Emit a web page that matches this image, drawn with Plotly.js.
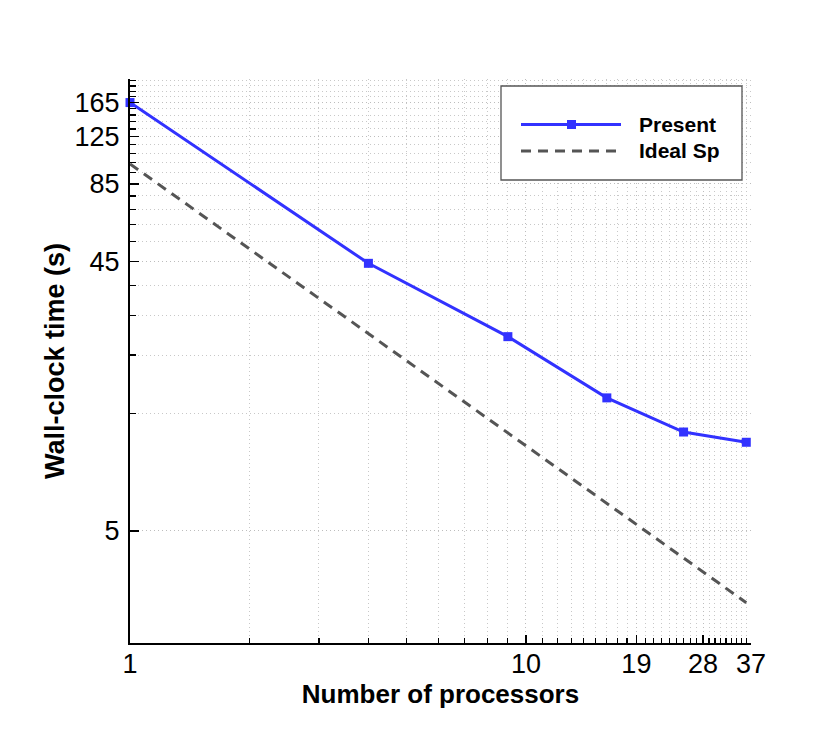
<!DOCTYPE html>
<html>
<head>
<meta charset="utf-8">
<script src="https://cdn.plot.ly/plotly-3.0.1.min.js"></script>
<style>
html,body{margin:0;padding:0;background:#fff;}
#chart{width:830px;height:739px;}
</style>
</head>
<body>
<div id="chart"></div>
<script>
// ---- data ----
var nprocs = [1, 4, 9, 16, 25, 36];
var presentTime = [165, 44.4, 24.4, 14.8, 11.2, 10.3];
var idealTime = [100, 25, 11.1, 6.25, 4.0, 2.78];

var xTickVals = [1, 10, 19, 28, 37];
var xTickText = ['1', '10', '19', '28', '37'];
var xMinorVals = [2,3,4,5,6,7,8,9,11,12,13,14,15,16,17,18,20,21,22,23,24,25,26,27,29,30,31,32,33,34,35,36];
var yTickVals = [5, 45, 85, 125, 165];
var yTickText = ['5', '45', '85', '125', '165'];
var yMinorVals = [13,21,29,37,53,61,69,77,93,101,109,117,133,141,149,157,173,181,189,197];

var seriesNames = ['Present', 'Ideal Sp'];

var blue = '#3232ff';
var gray = '#555555';
var fontFam = '"Liberation Sans", Arial, Helvetica, sans-serif';
var gridDash = '1px,3px';

var traces = [
  {
    x: nprocs, y: presentTime, name: seriesNames[0],
    type: 'scatter', mode: 'lines+markers',
    line: {color: blue, width: 3},
    marker: {symbol: 'square', size: 9, color: blue},
    cliponaxis: false
  },
  {
    x: nprocs, y: idealTime, name: seriesNames[1],
    type: 'scatter', mode: 'lines',
    line: {color: gray, width: 3, dash: '10px,7px'}
  }
];

// plot area in pixels: x 130..751, y 79..643
function px(p){ return (p - 130) / 621; }
function py(p){ return (643 - p) / 564; }

var shapes = [
  {type: 'rect', xref: 'paper', yref: 'paper',
   x0: px(501), x1: px(742), y0: py(180), y1: py(86),
   line: {color: '#555', width: 1.3}, fillcolor: '#fff'},
  {type: 'line', xref: 'paper', yref: 'paper',
   x0: px(521), x1: px(621), y0: py(124.5), y1: py(124.5),
   line: {color: blue, width: 3}},
  {type: 'rect', xref: 'paper', yref: 'paper',
   xsizemode: 'pixel', ysizemode: 'pixel',
   xanchor: px(571.5), yanchor: py(124.5),
   x0: -4.5, x1: 4.5, y0: -4.5, y1: 4.5,
   line: {width: 0}, fillcolor: blue},
  {type: 'line', xref: 'paper', yref: 'paper',
   x0: px(521), x1: px(617), y0: py(151), y1: py(151),
   line: {color: gray, width: 3, dash: '10px,7px'}}
];

var annotations = [
  {xref: 'paper', yref: 'paper', x: px(637), y: py(125), xanchor: 'left', yanchor: 'middle',
   text: seriesNames[0], showarrow: false,
   font: {family: fontFam, size: 21, color: '#000', weight: 'bold'}},
  {xref: 'paper', yref: 'paper', x: px(637), y: py(151), xanchor: 'left', yanchor: 'middle',
   text: seriesNames[1], showarrow: false,
   font: {family: fontFam, size: 21, color: '#000', weight: 'bold'}}
];

var layout = {
  width: 830, height: 739,
  margin: {l: 130, r: 79, t: 79, b: 96},
  paper_bgcolor: '#fff', plot_bgcolor: '#fff',
  showlegend: false,
  font: {family: fontFam, color: '#000'},
  xaxis: {
    type: 'log', range: [0, Math.log10(37)],
    tickmode: 'array', tickvals: xTickVals, ticktext: xTickText,
    ticks: 'inside', ticklen: 8, tickwidth: 1.5, tickcolor: '#000',
    ticklabelstandoff: -4,
    tickfont: {family: fontFam, size: 27, color: '#000'},
    showline: true, linecolor: '#000', linewidth: 2, mirror: false,
    showgrid: true, gridcolor: '#bdbdbd', gridwidth: 1, griddash: gridDash,
    zeroline: false,
    minor: {tickmode: 'array', tickvals: xMinorVals, ticks: 'inside', ticklen: 5,
            tickwidth: 1.2, tickcolor: '#000',
            showgrid: true, gridcolor: '#c8c8c8', gridwidth: 1, griddash: gridDash},
    title: {text: 'Number of processors', standoff: 2,
            font: {family: fontFam, size: 26, color: '#000', weight: 'bold'}}
  },
  yaxis: {
    type: 'log', range: [Math.log10(2), Math.log10(200)],
    tickmode: 'array', tickvals: yTickVals, ticktext: yTickText,
    ticks: 'inside', ticklen: 9, tickwidth: 1.5, tickcolor: '#000',
    ticklabelstandoff: 3,
    tickfont: {family: fontFam, size: 27, color: '#000'},
    showline: true, linecolor: '#000', linewidth: 2, mirror: false,
    showgrid: true, gridcolor: '#bdbdbd', gridwidth: 1, griddash: gridDash,
    zeroline: false,
    minor: {tickmode: 'array', tickvals: yMinorVals, ticks: 'inside', ticklen: 6,
            tickwidth: 1.2, tickcolor: '#000',
            showgrid: true, gridcolor: '#c8c8c8', gridwidth: 1, griddash: gridDash},
    title: {text: 'Wall-clock time (s)', standoff: 2,
            font: {family: fontFam, size: 27, color: '#000', weight: 'bold'}}
  },
  shapes: shapes,
  annotations: annotations
};

Plotly.newPlot('chart', traces, layout, {displayModeBar: false, staticPlot: true});
</script>
</body>
</html>
